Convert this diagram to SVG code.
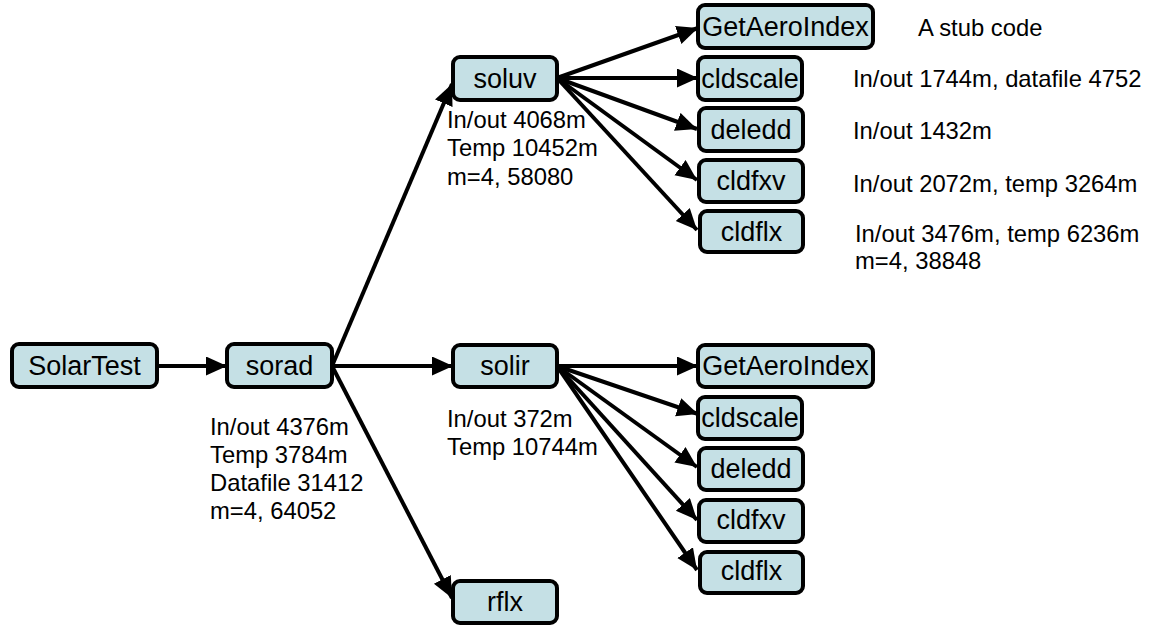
<svg xmlns="http://www.w3.org/2000/svg" width="1151" height="626" viewBox="0 0 1151 626">
<style>
.box{fill:#c5e0e5;stroke:#000;stroke-width:4}
.lbl{font-family:"Liberation Sans",Arial,sans-serif;font-size:27px;fill:#000;text-anchor:middle}
.note{font-family:"Liberation Sans",Arial,sans-serif;font-size:23.8px;fill:#000}
.edge{stroke:#000;stroke-width:4;fill:none;marker-end:url(#ah)}
</style>
<defs>
<marker id="ah" markerUnits="userSpaceOnUse" markerWidth="24" markerHeight="20" refX="21" refY="9.5" orient="auto">
<path d="M0,0 L21,9.5 L0,19 z" fill="#000"/>
</marker>
</defs>
<rect width="1151" height="626" fill="#fff"/>
<g id="connectors">
<line class="edge" x1="157" y1="366" x2="227" y2="366"/>
<line class="edge" x1="332" y1="366" x2="452" y2="84"/>
<line class="edge" x1="332" y1="366" x2="453" y2="366"/>
<line class="edge" x1="332" y1="366" x2="452" y2="598"/>
<line class="edge" x1="557" y1="78" x2="698" y2="28"/>
<line class="edge" x1="557" y1="78" x2="698" y2="78"/>
<line class="edge" x1="557" y1="78" x2="697" y2="129"/>
<line class="edge" x1="557" y1="78" x2="697" y2="180"/>
<line class="edge" x1="557" y1="78" x2="697" y2="230"/>
<line class="edge" x1="557" y1="366" x2="698" y2="366"/>
<line class="edge" x1="557" y1="366" x2="698" y2="414"/>
<line class="edge" x1="557" y1="366" x2="697" y2="467"/>
<line class="edge" x1="557" y1="366" x2="697" y2="520"/>
<line class="edge" x1="557" y1="366" x2="697" y2="570"/>
</g>
<g id="SolarTest"><rect class="box" x="12" y="344" width="145" height="43" rx="7"/><text class="lbl" x="84.5" y="375">SolarTest</text></g>
<g id="sorad"><rect class="box" x="227" y="344" width="105" height="43" rx="7"/><text class="lbl" x="279.5" y="375">sorad</text></g>
<g id="soluv"><rect class="box" x="453" y="57" width="104" height="43" rx="7"/><text class="lbl" x="505" y="88">soluv</text></g>
<g id="solir"><rect class="box" x="453" y="345" width="104" height="42" rx="7"/><text class="lbl" x="505" y="375">solir</text></g>
<g id="rflx"><rect class="box" x="453" y="581" width="104" height="42" rx="7"/><text class="lbl" x="505" y="611">rflx</text></g>
<g id="GetAeroIndex1"><rect class="box" x="698" y="5" width="175" height="43" rx="7"/><text class="lbl" x="785.5" y="36">GetAeroIndex</text></g>
<g id="cldscale1"><rect class="box" x="698" y="57" width="104" height="43" rx="7"/><text class="lbl" x="750" y="88">cldscale</text></g>
<g id="deledd1"><rect class="box" x="699" y="108" width="104" height="43" rx="7"/><text class="lbl" x="751" y="139">deledd</text></g>
<g id="cldfxv1"><rect class="box" x="699" y="160" width="104" height="42" rx="7"/><text class="lbl" x="751" y="190">cldfxv</text></g>
<g id="cldflx1"><rect class="box" x="700" y="211" width="103" height="41" rx="7"/><text class="lbl" x="751.5" y="241">cldflx</text></g>
<g id="GetAeroIndex2"><rect class="box" x="698" y="345" width="175" height="42" rx="7"/><text class="lbl" x="785.5" y="375">GetAeroIndex</text></g>
<g id="cldscale2"><rect class="box" x="698" y="397" width="104" height="42" rx="7"/><text class="lbl" x="750" y="427">cldscale</text></g>
<g id="deledd2"><rect class="box" x="699" y="448" width="104" height="42" rx="7"/><text class="lbl" x="751" y="478">deledd</text></g>
<g id="cldfxv2"><rect class="box" x="699" y="500" width="104" height="42" rx="7"/><text class="lbl" x="751" y="529">cldfxv</text></g>
<g id="cldflx2"><rect class="box" x="700" y="552" width="103" height="41" rx="7"/><text class="lbl" x="751.5" y="580">cldflx</text></g>
<g id="notes">
<text class="note" x="210" y="435">In/out 4376m</text>
<text class="note" x="210" y="463">Temp 3784m</text>
<text class="note" x="210" y="491">Datafile 31412</text>
<text class="note" x="210" y="519">m=4, 64052</text>
<text class="note" x="447" y="128">In/out 4068m</text>
<text class="note" x="447" y="156">Temp 10452m</text>
<text class="note" x="447" y="185">m=4, 58080</text>
<text class="note" x="447" y="427">In/out 372m</text>
<text class="note" x="447" y="455">Temp 10744m</text>
<text class="note" x="918" y="36">A stub code</text>
<text class="note" x="853" y="87">In/out 1744m, datafile 4752</text>
<text class="note" x="853" y="139">In/out 1432m</text>
<text class="note" x="853" y="192">In/out 2072m, temp 3264m</text>
<text class="note" x="855" y="242">In/out 3476m, temp 6236m</text>
<text class="note" x="855" y="269">m=4, 38848</text>
</g>
</svg>
